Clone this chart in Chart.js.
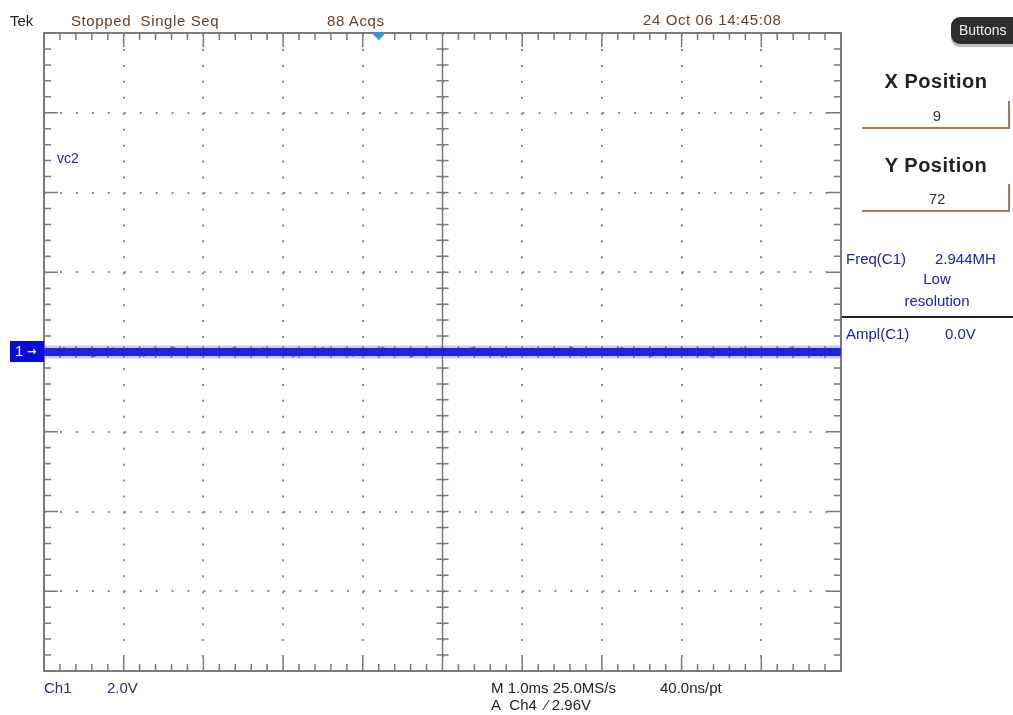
<!DOCTYPE html>
<html>
<head>
<meta charset="utf-8">
<title>vc2</title>
<script src="https://cdn.jsdelivr.net/npm/chart.js@4.4.1/dist/chart.umd.min.js"></script>
<style>
    body { margin: 0; background: #fff; font-family: "Liberation Sans", Arial, sans-serif; }
    #wrap { position: relative; width: 1013px; height: 715px; overflow: hidden; }
    #scope { position: absolute; left: 0; top: 0; }
    .t { position: absolute; white-space: nowrap; line-height: 1; font-size: 15px; }
    .brown { color: #5e4330; letter-spacing: 0.6px; }
    .blue { color: #2020a4; }
    .navy { color: #2c2c7e; }
    .dark { color: #222; }
    .head { font-weight: bold; font-size: 20px; color: #222; letter-spacing: 0.5px; width: 150px; text-align: center; }
    .val { width: 150px; text-align: center; color: #333; }
    .box { position: absolute; border-bottom: 2px solid #a37a55; border-right: 2px solid #a37a55; }
    #buttons { position: absolute; left: 951px; top: 17px; width: 80px; height: 27px; background: #2d2d2d;
               border-radius: 9px; box-shadow: 0 3px 0 #bdbdbd; color: #eee; font-size: 14px; line-height: 27px; padding-left: 8px; box-sizing: border-box; }
</style>
</head>
<body>
<div id="wrap">
    <canvas id="scope" width="1013" height="715"></canvas>

    <div class="t dark" style="left:10px; top:13px;">Tek</div>
    <div class="t brown" style="left:71px; top:13px;">Stopped&nbsp; Single Seq</div>
    <div class="t brown" style="left:327px; top:13px;">88 Acqs</div>
    <div class="t brown" style="left:643px; top:12px;">24 Oct 06 14:45:08</div>
    <div id="buttons">Buttons</div>

    <div class="t head" style="left:861px; top:71px;">X Position</div>
    <div class="box" style="left:862px; top:101px; width:146px; height:26px;"></div>
    <div class="t val" style="left:862px; top:108px;">9</div>
    <div class="t head" style="left:861px; top:155px;">Y Position</div>
    <div class="box" style="left:862px; top:184px; width:146px; height:26px;"></div>
    <div class="t val" style="left:862px; top:191px;">72</div>

    <div class="t blue" style="left:846px; top:251px;">Freq(C1)</div>
    <div class="t blue" style="left:935px; top:251px;">2.944MH</div>
    <div class="t blue" style="left:862px; top:271px; width:150px; text-align:center;">Low</div>
    <div class="t blue" style="left:862px; top:293px; width:150px; text-align:center;">resolution</div>
    <div style="position:absolute; left:842px; top:316px; width:171px; height:2px; background:#222;"></div>
    <div class="t blue" style="left:846px; top:326px;">Ampl(C1)</div>
    <div class="t blue" style="left:945px; top:326px;">0.0V</div>

    <div class="t navy" style="left:57px; top:151px; font-size:14px;">vc2</div>

    <div class="t navy" style="left:44px; top:680px;">Ch1</div>
    <div class="t navy" style="left:107px; top:680px;">2.0V</div>
    <div class="t dark" style="left:491px; top:680px;">M 1.0ms 25.0MS/s</div>
    <div class="t dark" style="left:660px; top:680px;">40.0ns/pt</div>
    <div class="t dark" style="left:491px; top:697px;">A&nbsp; Ch4&nbsp; &#8260;&nbsp;2.96V</div>
</div>

<script>
// horizontal: 1.0 ms/div over 10 divisions, vertical: 2.0 V/div over 8 divisions
const timeRange = [0, 10];
const voltRange = [-8, 8];
const timePerDiv = 1;
const voltsPerDiv = 2;

// captured trace of channel 1 (flat at 0.0 V)
const traceTime = [0, 10];
const traceVolts = [0, 0];

// noise riding on the trace, volts, sampled evenly across the record
const noiseVolts = [
    0.06, -0.09, 0.11, -0.04, 0.08, -0.12, 0.03, 0.10, -0.07, 0.05,
    -0.11, 0.09, -0.02, 0.12, -0.08, 0.04, -0.10, 0.07, -0.05, 0.11,
    -0.09, 0.02, 0.10, -0.06, 0.08, -0.12, 0.05, -0.03, 0.11, -0.08,
    0.06, -0.10, 0.09, -0.04, 0.12, -0.07, 0.03, -0.11, 0.08, -0.05,
    0.10, -0.09, 0.04, 0.11, -0.06, 0.07, -0.12, 0.05, -0.02, 0.10,
    -0.08, 0.09, -0.05, 0.12, -0.10, 0.03, 0.08, -0.07, 0.11, -0.04,
    0.06, -0.11, 0.09, -0.03, 0.10, -0.08, 0.05, -0.12, 0.07, -0.06,
    0.11, -0.09, 0.04, 0.08, -0.05, 0.12, -0.07, 0.03, -0.10, 0.09,
    -0.04
];

const triggerTime = 4.2;
const channelLevel = 0;

const GRID = '#8c8c8c';
const FRAME = '#7a7a7a';
const TRACE = 'rgb(22, 22, 210)';

const graticule = {
    id: 'graticule',
    beforeDatasetsDraw(chart) {
        const { ctx, chartArea: a, scales: { x, y } } = chart;
        const xMid = x.getPixelForValue((timeRange[0] + timeRange[1]) / 2);
        const yMid = y.getPixelForValue(0);

        ctx.save();
        ctx.strokeStyle = FRAME;
        ctx.lineWidth = 2;
        ctx.strokeRect(a.left, a.top, a.right - a.left, a.bottom - a.top);

        ctx.lineWidth = 1.5;
        ctx.beginPath();
        ctx.moveTo(xMid, a.top); ctx.lineTo(xMid, a.bottom);
        ctx.moveTo(a.left, yMid); ctx.lineTo(a.right, yMid);

        // 5 minor ticks per division on the frame and the centre cross
        const xDivs = (timeRange[1] - timeRange[0]) / timePerDiv;
        for (let i = 0; i <= xDivs * 5; i++) {
            const px = x.getPixelForValue(timeRange[0] + i * timePerDiv / 5);
            const len = i % 5 === 0 ? 14 : 7;
            ctx.moveTo(px, a.top); ctx.lineTo(px, a.top + len);
            ctx.moveTo(px, a.bottom); ctx.lineTo(px, a.bottom - len);
            ctx.moveTo(px, yMid - 6); ctx.lineTo(px, yMid + 6);
        }
        const yDivs = (voltRange[1] - voltRange[0]) / voltsPerDiv;
        for (let i = 0; i <= yDivs * 5; i++) {
            const py = y.getPixelForValue(voltRange[0] + i * voltsPerDiv / 5);
            const len = i % 5 === 0 ? 14 : 7;
            ctx.moveTo(a.left, py); ctx.lineTo(a.left + len, py);
            ctx.moveTo(a.right, py); ctx.lineTo(a.right - len, py);
            ctx.moveTo(xMid - 6, py); ctx.lineTo(xMid + 6, py);
        }
        ctx.stroke();
        ctx.restore();
    },
    afterDraw(chart) {
        const { ctx, chartArea: a, scales: { x, y } } = chart;
        ctx.save();

        // trigger position marker
        const tx = x.getPixelForValue(triggerTime);
        ctx.fillStyle = '#1c9fd6';
        ctx.beginPath();
        ctx.moveTo(tx - 7, a.top);
        ctx.lineTo(tx + 7, a.top);
        ctx.lineTo(tx, a.top + 7);
        ctx.closePath();
        ctx.fill();

        // channel 1 ground marker
        const cy = y.getPixelForValue(channelLevel);
        ctx.fillStyle = '#0b0bd6';
        ctx.fillRect(10, cy - 11, a.left - 10, 21);
        ctx.fillStyle = '#fff';
        ctx.font = '15px "Liberation Sans", Arial, sans-serif';
        ctx.textBaseline = 'middle';
        ctx.fillText('1', 15, cy);
        ctx.font = 'bold 11px "DejaVu Sans", sans-serif';
        ctx.fillText('\u2192', 27, cy);
        ctx.restore();
    }
};

const ctx = document.getElementById('scope').getContext('2d');

const tracePoints = traceTime.map((t, i) => ({ x: t, y: traceVolts[i] }));
const sampleStep = (timeRange[1] - timeRange[0]) / (noiseVolts.length - 1);
const noisePoints = noiseVolts.map((v, i) => ({ x: timeRange[0] + i * sampleStep, y: channelLevel + v }));

const scopeChart = new Chart(ctx, {
    type: 'line',
    data: {
        datasets: [{
            label: 'halo',
            data: tracePoints,
            borderColor: 'rgba(70, 70, 235, 0.28)',
            borderWidth: 13,
            pointRadius: 0
        }, {
            label: 'vc2',
            data: tracePoints,
            borderColor: TRACE,
            borderWidth: 8,
            pointRadius: 0
        }, {
            label: 'noise',
            data: noisePoints,
            borderColor: 'rgba(22, 22, 210, 0.55)',
            borderWidth: 1.5,
            pointRadius: 0
        }]
    },
    options: {
        responsive: false,
        animation: false,
        devicePixelRatio: 1,
        layout: { padding: { left: 44, top: 33, right: 172, bottom: 44 } },
        plugins: {
            legend: { display: false },
            tooltip: { enabled: false }
        },
        scales: {
            x: {
                type: 'linear',
                min: timeRange[0],
                max: timeRange[1],
                ticks: { display: false, stepSize: timePerDiv },
                grid: { color: GRID, lineWidth: 2, drawTicks: false },
                border: { display: false, dash: [2, 13.95] }
            },
            y: {
                type: 'linear',
                min: voltRange[0],
                max: voltRange[1],
                ticks: { display: false, stepSize: voltsPerDiv },
                grid: { color: GRID, lineWidth: 2, drawTicks: false },
                border: { display: false, dash: [2, 13.95] }
            }
        }
    },
    plugins: [graticule]
});
</script>
</body>
</html>
